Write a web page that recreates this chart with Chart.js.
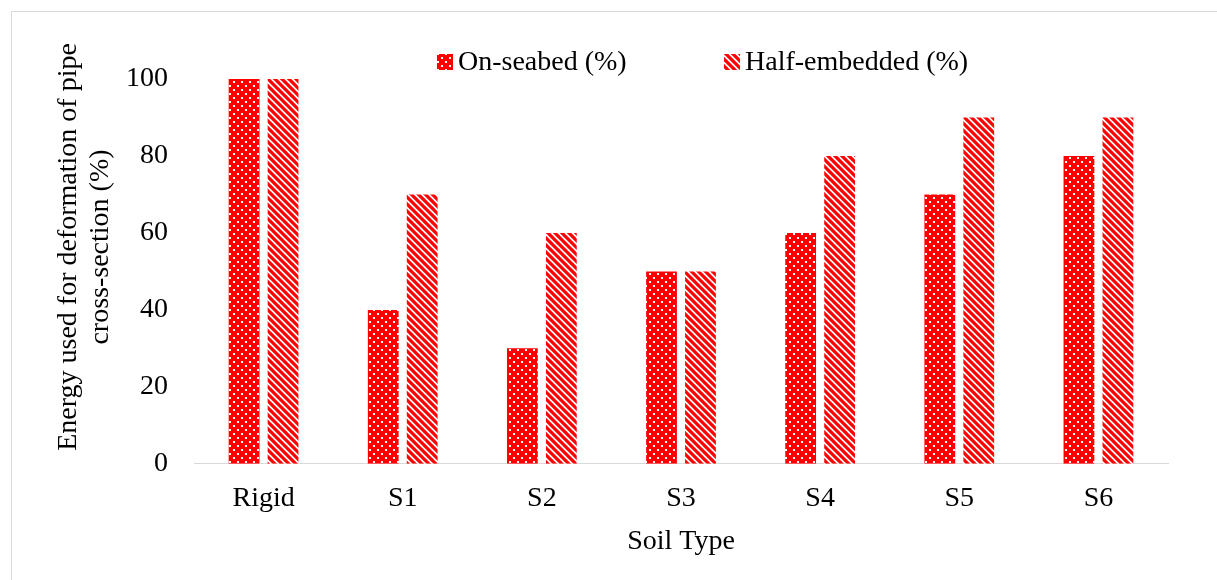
<!DOCTYPE html>
<html>
<head>
<meta charset="utf-8">
<script src="https://cdn.jsdelivr.net/npm/chart.js@4"></script>
<style>
  html, body { margin: 0; padding: 0; background: #fff; }
  #frame {
    position: absolute; left: 11px; top: 11px;
    width: 1220px; height: 580px;
    border: 1px solid #d9d9d9; box-sizing: border-box;
  }
  #wrap { position: absolute; left: 12px; top: 12px; width: 1205px; height: 568px; }
</style>
</head>
<body>
<div id="frame"></div>
<div id="wrap"><canvas id="chart"></canvas></div>
<script>
// data
const categories = ['Rigid', 'S1', 'S2', 'S3', 'S4', 'S5', 'S6'];
const onSeabed = [100, 40, 30, 50, 60, 70, 80];
const halfEmbedded = [100, 70, 60, 50, 80, 90, 90];
const seriesNames = ['On-seabed (%)', 'Half-embedded (%)'];
const yTicks = [0, 20, 40, 60, 80, 100];
const yTitle = ['Energy used for deformation of pipe', 'cross-section (%)'];

const RED = '#ff0000';
const FONT = '"Liberation Serif", "Times New Roman", serif';

// dotted fill: red with staggered white dots
function dotPattern() {
  const c = document.createElement('canvas');
  c.width = 8; c.height = 8;
  const g = c.getContext('2d');
  g.fillStyle = RED;
  g.fillRect(0, 0, 8, 8);
  g.fillStyle = '#ffffff';
  g.fillRect(1, 1, 2, 2);
  g.fillRect(5, 5, 2, 2);
  return g.createPattern(c, 'repeat');
}

// downward diagonal stripes
function stripePattern() {
  const s = 7;
  const c = document.createElement('canvas');
  c.width = s; c.height = s;
  const g = c.getContext('2d');
  g.fillStyle = '#ffffff';
  g.fillRect(0, 0, s, s);
  g.strokeStyle = RED;
  g.lineWidth = 3.2;
  g.beginPath();
  for (let k = -1; k <= 1; k++) {
    g.moveTo(k * s - 1, -1);
    g.lineTo(k * s + s + 1, s + 1);
  }
  g.stroke();
  return g.createPattern(c, 'repeat');
}

const fills = [dotPattern(), stripePattern()];

// legend and y title drawn at their own spots
const extras = {
  id: 'extras',
  afterDraw(chart) {
    const ctx = chart.ctx;
    const items = [{ x: 425, label: seriesNames[0] }, { x: 712, label: seriesNames[1] }];
    const y = 50;
    ctx.save();
    ctx.font = '28px ' + FONT;
    ctx.textBaseline = 'middle';
    items.forEach((it, i) => {
      ctx.fillStyle = fills[i];
      ctx.fillRect(it.x, y - 8, 16, 16);
      ctx.fillStyle = '#000';
      ctx.fillText(it.label, it.x + 21, y + 1);
    });
    // rotated axis title
    ctx.translate(57, 235);
    ctx.rotate(-Math.PI / 2);
    ctx.textAlign = 'center';
    ctx.fillText(yTitle[0], 0, 0);
    ctx.fillText(yTitle[1], 0, 32);
    ctx.restore();
  }
};

new Chart(document.getElementById('chart'), {
  type: 'bar',
  data: {
    labels: categories,
    datasets: [
      { label: seriesNames[0], data: onSeabed, backgroundColor: fills[0], borderWidth: 0 },
      { label: seriesNames[1], data: halfEmbedded, backgroundColor: fills[1], borderWidth: 0 }
    ]
  },
  options: {
    responsive: true,
    maintainAspectRatio: false,
    animation: false,
    layout: { padding: { left: 88, right: 49, top: 67, bottom: 22 } },
    datasets: { bar: { categoryPercentage: 0.56, barPercentage: 0.79 } },
    plugins: { legend: { display: false }, tooltip: { enabled: false } },
    scales: {
      x: {
        grid: { display: false, drawTicks: false },
        border: { color: '#d9d9d9', width: 1 },
        ticks: { color: '#000', font: { family: FONT, size: 28 }, padding: 18 },
        title: { display: true, text: 'Soil Type', color: '#000', font: { family: FONT, size: 28 }, padding: { top: -9, bottom: 0 } }
      },
      y: {
        min: 0, max: 100,
        afterBuildTicks(axis) { axis.ticks = yTicks.map(v => ({ value: v })); },
        grid: { display: false, drawTicks: false },
        border: { display: false },
        ticks: { color: '#000', font: { family: FONT, size: 28 }, padding: 26 }
      }
    }
  },
  plugins: [extras]
});
</script>
</body>
</html>
